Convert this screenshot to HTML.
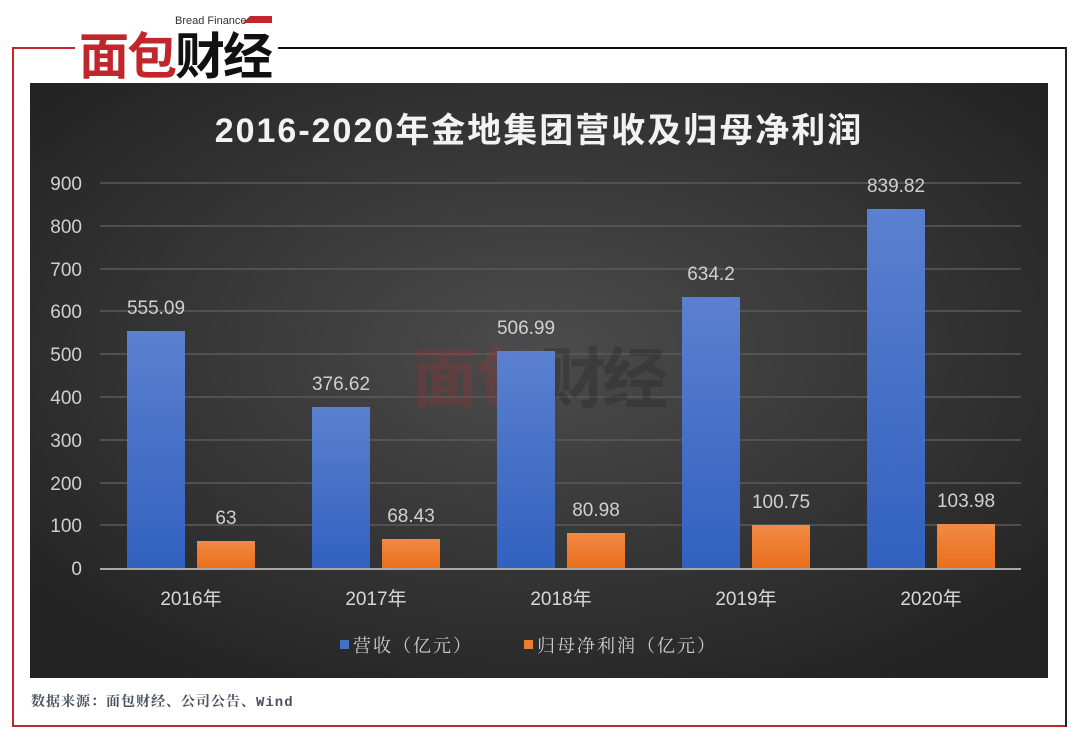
<!DOCTYPE html>
<html><head><meta charset="utf-8"><style>
body{margin:0;width:1080px;height:740px;background:#fff;overflow:hidden;font-family:"Liberation Sans","Noto Sans CJK SC",sans-serif}
</style></head><body>
<svg width="1080" height="740" viewBox="0 0 1080 740" xmlns="http://www.w3.org/2000/svg">
<defs>
<radialGradient id="bg" cx="0.5" cy="0.45" r="0.65">
<stop offset="0" stop-color="#4c4c4c"/><stop offset="1" stop-color="#232323"/>
</radialGradient>
<linearGradient id="bl" x1="0" y1="0" x2="0" y2="1"><stop offset="0" stop-color="#5b80cf"/><stop offset="1" stop-color="#3161bf"/></linearGradient>
<linearGradient id="or" x1="0" y1="0" x2="0" y2="1"><stop offset="0" stop-color="#f18a45"/><stop offset="1" stop-color="#ea6f1c"/></linearGradient>
</defs>
<line x1="13" y1="48" x2="75" y2="48" stroke="#c0272d" stroke-width="2"/>
<line x1="13" y1="47" x2="13" y2="727" stroke="#c0272d" stroke-width="2"/>
<line x1="12" y1="726" x2="1066" y2="726" stroke="#c0272d" stroke-width="2"/>
<line x1="278" y1="48" x2="1066" y2="48" stroke="#111" stroke-width="2"/>
<line x1="1066" y1="47" x2="1066" y2="727" stroke="#222" stroke-width="2"/>
<text x="175" y="24" font-size="11" fill="#333">Bread Finance</text>
<polygon points="250,16 272,16 272,23 243,23" fill="#c0272d"/>
<text x="79" y="74" font-size="50" font-weight="bold" fill="#c0272d" font-family="'Noto Sans CJK SC',sans-serif" letter-spacing="-2">面包</text>
<text x="175" y="74" font-size="50" font-weight="bold" fill="#111" font-family="'Noto Sans CJK SC',sans-serif" letter-spacing="-2">财经</text>
<rect x="30" y="83" width="1018" height="595" fill="url(#bg)"/>
<text x="539" y="142" font-size="34" font-weight="bold" fill="#f2f2f2" text-anchor="middle" letter-spacing="2" font-family="'Liberation Sans','Noto Sans CJK SC',sans-serif">2016-2020年金地集团营收及归母净利润</text>
<g stroke="#5a5a5a" stroke-width="1.5">
<line x1="100" y1="183" x2="1021" y2="183"/><line x1="100" y1="226" x2="1021" y2="226"/>
<line x1="100" y1="269" x2="1021" y2="269"/><line x1="100" y1="311" x2="1021" y2="311"/>
<line x1="100" y1="354" x2="1021" y2="354"/><line x1="100" y1="397" x2="1021" y2="397"/>
<line x1="100" y1="440" x2="1021" y2="440"/><line x1="100" y1="483" x2="1021" y2="483"/>
<line x1="100" y1="525" x2="1021" y2="525"/>
</g>
<g font-size="19" fill="#d0d0d0" text-anchor="end">
<text x="82" y="190">900</text><text x="82" y="233">800</text><text x="82" y="276">700</text>
<text x="82" y="318">600</text><text x="82" y="361">500</text><text x="82" y="404">400</text>
<text x="82" y="447">300</text><text x="82" y="490">200</text><text x="82" y="532">100</text>
<text x="82" y="575">0</text>
</g>
<text x="412" y="402" font-size="66" font-weight="bold" fill="#c0272d" fill-opacity="0.22" font-family="'Noto Sans CJK SC',sans-serif" letter-spacing="-4">面包</text>
<text x="540" y="402" font-size="66" font-weight="bold" fill="#222" fill-opacity="0.3" font-family="'Noto Sans CJK SC',sans-serif" letter-spacing="-4">财经</text>
<g fill="url(#bl)">
<rect x="127" y="331" width="58" height="237"/>
<rect x="312" y="407" width="58" height="161"/>
<rect x="497" y="351" width="58" height="217"/>
<rect x="682" y="297" width="58" height="271"/>
<rect x="867" y="209" width="58" height="359"/>
</g>
<g fill="url(#or)">
<rect x="197" y="541" width="58" height="27"/>
<rect x="382" y="539" width="58" height="29"/>
<rect x="567" y="533" width="58" height="35"/>
<rect x="752" y="525" width="58" height="43"/>
<rect x="937" y="524" width="58" height="44"/>
</g>
<line x1="100" y1="569" x2="1021" y2="569" stroke="#a8a8a8" stroke-width="2"/>
<g font-size="19" fill="#d0d0d0" text-anchor="middle">
<text x="156" y="314">555.09</text><text x="341" y="390">376.62</text><text x="526" y="334">506.99</text>
<text x="711" y="280">634.2</text><text x="896" y="192">839.82</text>
<text x="226" y="524">63</text><text x="411" y="522">68.43</text><text x="596" y="516">80.98</text>
<text x="781" y="508">100.75</text><text x="966" y="507">103.98</text>
</g>
<g font-size="19" fill="#d8d8d8" text-anchor="middle" font-family="'Liberation Sans','Noto Sans CJK SC',sans-serif">
<text x="191" y="605">2016年</text><text x="376" y="605">2017年</text><text x="561" y="605">2018年</text>
<text x="746" y="605">2019年</text><text x="931" y="605">2020年</text>
</g>
<rect x="340" y="640" width="9" height="9" fill="#4472c4"/>
<text x="353" y="652" font-size="18" fill="#d0d0d0" font-family="'Noto Serif CJK SC',serif" letter-spacing="2">营收（亿元）</text>
<rect x="524" y="640" width="9" height="9" fill="#ed7d31"/>
<text x="537" y="652" font-size="18" fill="#d0d0d0" font-family="'Noto Serif CJK SC',serif" letter-spacing="2">归母净利润（亿元）</text>
<text x="31" y="706" font-size="14" font-weight="bold" fill="#4a5260" font-family="'Liberation Mono','Noto Serif CJK SC',monospace" letter-spacing="1">数据来源：面包财经、公司公告、Wind</text>
</svg>
</body></html>
